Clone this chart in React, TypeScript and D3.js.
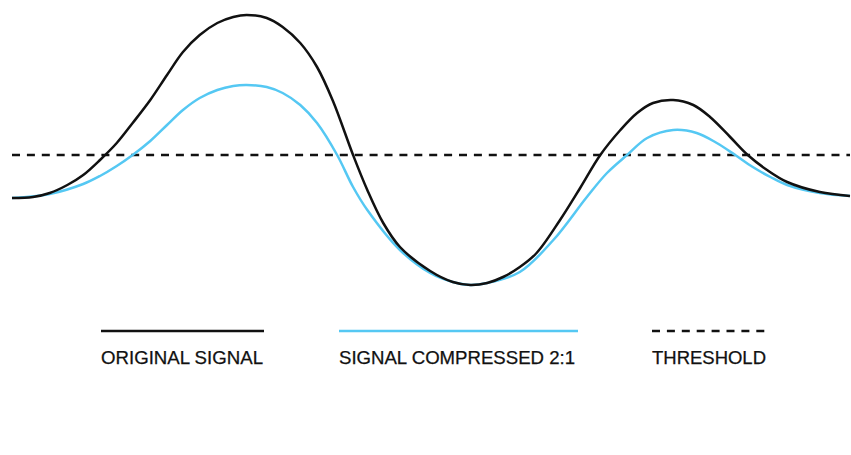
import React from "react";
import * as d3 from "d3";

// time (0..100) and amplitude values
const originalTime = [0, 2.5, 4.5, 6.6, 8.5, 10.5, 12.5, 14.4, 16.5, 18.5, 20.4, 22.4, 24.5, 26.4, 28.0, 30.4, 32.3, 34.4, 36.4, 38.3, 40.7, 42.4, 44.3, 46.3, 49.9, 52.6, 54.7, 56.7, 58.6, 60.6, 62.6, 65.4, 67.8, 70.2, 72.6, 74.6, 76.5, 78.9, 81.3, 83.3, 85.7, 87.8, 90.1, 92.5, 96.4, 100];
const originalAmp = [0, 1, 5, 13, 23, 38, 55, 75, 98, 123, 146, 163, 175, 181, 183, 180, 171, 155, 131, 97, 43, 8, -25, -49, -73, -84, -87, -85, -79, -69, -55, -22, 10, 43, 68, 85, 95, 98, 93, 81, 61, 43, 28, 16, 6, 2];

const compressedTime = [0, 4.5, 8.5, 10.5, 12.5, 14.4, 16.5, 18.5, 20.4, 22.4, 24.5, 26.4, 28.0, 30.4, 32.3, 34.4, 36.4, 38.8, 40.7, 42.4, 46.3, 49.9, 52.6, 54.7, 56.7, 60.6, 64.6, 68.6, 71.0, 73.4, 75.8, 78.9, 81.7, 84.1, 86.3, 88.4, 90.5, 92.5, 96.4, 100];
const compressedAmp = [0, 4, 14, 22, 32, 43, 57, 73, 88, 100, 108, 112, 113, 111, 105, 93, 75, 43, 11, -12, -52, -75, -84, -87, -85, -74, -42, 1, 25, 43, 60, 68, 65, 55, 43, 31, 21, 13, 5, 2];

const thresholdValue = 43;

const legendLabels = ["ORIGINAL SIGNAL", "SIGNAL COMPRESSED 2:1", "THRESHOLD"];

const W = 851;
const H = 455;
const BLACK = "#111111";
const BLUE = "#55c8f3";
const DASH = "8,6.9";

export default function App() {
  const x = d3.scaleLinear().domain([0, 100]).range([12, 850]);
  const y = d3.scaleLinear().domain([-100, 200]).range([298, -2]);

  const line = d3
    .line<[number, number]>()
    .x((d) => x(d[0]))
    .y((d) => y(d[1]))
    .curve(d3.curveCatmullRom.alpha(0.5));

  const orig = originalTime.map((t, i) => [t, originalAmp[i]] as [number, number]);
  const comp = compressedTime.map((t, i) => [t, compressedAmp[i]] as [number, number]);

  const legendY = 331;
  const textY = 364;
  const items = [
    { x1: 101, x2: 264, tw: 162, color: BLACK, dash: undefined as string | undefined },
    { x1: 339, x2: 578, tw: 236, color: BLUE, dash: undefined },
    { x1: 652, x2: 767, tw: 114, color: BLACK, dash: DASH },
  ];

  return (
    <svg
      width={W}
      height={H}
      style={{ position: "absolute", left: 0, top: 0, background: "#fff" }}
    >
      <path
        d={d3.line()([[x(0), y(thresholdValue)], [x(100), y(thresholdValue)]]) || ""}
        fill="none"
        stroke={BLACK}
        strokeWidth={2.4}
        strokeDasharray={DASH}
      />
      <path d={line(comp) || ""} fill="none" stroke={BLUE} strokeWidth={2.5} />
      <path d={line(orig) || ""} fill="none" stroke={BLACK} strokeWidth={2.5} />
      {items.map((it, i) => (
        <g key={i}>
          <line
            x1={it.x1}
            x2={it.x2}
            y1={legendY}
            y2={legendY}
            stroke={it.color}
            strokeWidth={2.5}
            strokeDasharray={it.dash}
          />
          <text
            x={it.x1}
            y={textY}
            fontFamily="'Liberation Sans', Arial, Helvetica, sans-serif"
            fontSize={17.5}
            fill="#111"
            stroke="#111"
            strokeWidth={0.25}
            textLength={it.tw}
            lengthAdjust="spacingAndGlyphs"
          >
            {legendLabels[i]}
          </text>
        </g>
      ))}
    </svg>
  );
}
